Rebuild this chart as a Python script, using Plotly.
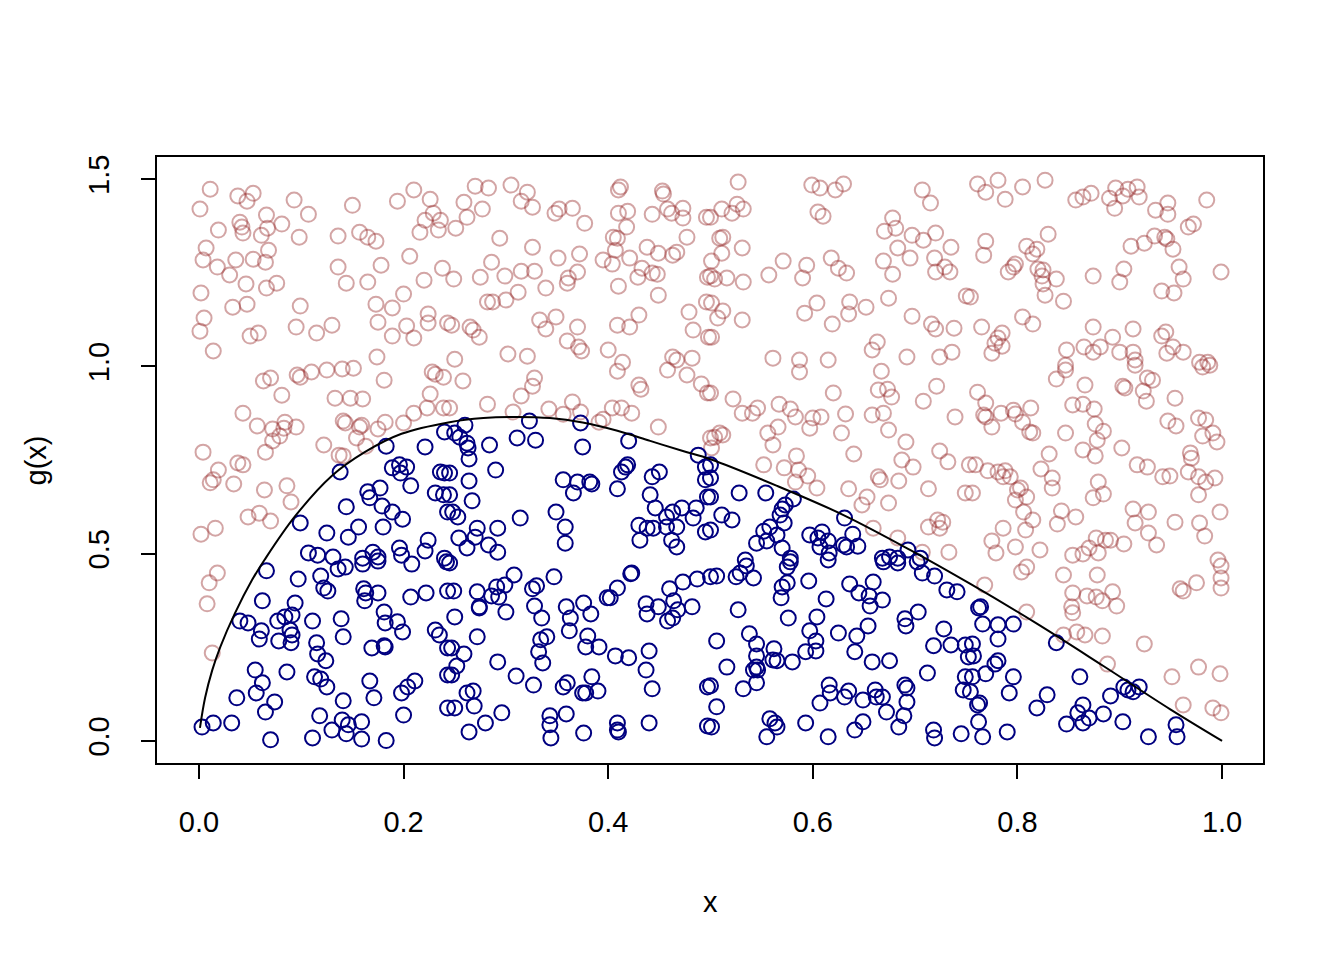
import plotly.graph_objects as go

# ---- rejected proposals (above the curve) ----
red_x = [
 0.011,0.038,0.053,0.047,0.001,0.093,0.107,0.066,0.040,0.042,0.019,0.043,0.061,0.067,0.081,0.098,0.150,0.194,0.210,0.226,0.229,0.221,0.236,0.234,0.216,0.136,0.157,0.165,0.173,0.007,0.004,0.018,0.036,0.053,0.065,0.068,0.030,0.046,0.066,0.076,0.136,0.178,0.206,0.238,0.220,0.144,0.165,0.200,0.002,0.033,0.047,0.099,0.173,0.189,0.005,0.001,0.095,0.115,0.130,0.175,0.203,0.224,0.224,0.050,0.058,0.189,0.210,0.014,0.174,0.243,
 0.270,0.283,0.305,0.321,0.315,0.326,0.259,0.277,0.262,0.251,0.348,0.352,0.365,0.377,0.412,0.410,0.453,0.454,0.410,0.419,0.418,0.443,0.458,0.462,0.473,0.473,0.496,0.294,0.326,0.286,0.351,0.372,0.395,0.405,0.409,0.407,0.404,0.421,0.438,0.449,0.463,0.467,0.477,0.433,0.429,0.443,0.448,0.497,0.249,0.275,0.299,0.315,0.328,0.361,0.360,0.370,0.339,0.410,0.449,0.312,0.282,0.287,0.300,0.496,0.247,0.265,0.268,0.274,0.333,0.339,0.349,0.370,0.360,0.371,0.374,0.400,0.409,0.421,0.430,0.479,0.483,0.498,0.250,0.302,0.321,0.414,0.463,0.467,0.482,
 0.527,0.599,0.607,0.622,0.630,0.707,0.715,0.511,0.521,0.526,0.532,0.500,0.605,0.610,0.678,0.670,0.681,0.697,0.708,0.720,0.735,0.512,0.509,0.511,0.531,0.501,0.683,0.695,0.719,0.669,0.678,0.729,0.734,0.720,0.571,0.557,0.594,0.590,0.618,0.625,0.633,0.500,0.504,0.516,0.532,0.674,0.750,0.501,0.512,0.507,0.531,0.592,0.604,0.636,0.635,0.652,0.619,0.697,0.716,0.720,0.738,0.501,0.663,0.658,0.692,0.724,0.736,0.561,0.587,0.615,
 0.761,0.781,0.769,0.788,0.805,0.827,0.857,0.864,0.872,0.890,0.896,0.903,0.908,0.917,0.919,0.895,0.935,0.947,0.947,0.985,0.967,0.972,0.769,0.767,0.809,0.819,0.815,0.830,0.911,0.924,0.934,0.944,0.946,0.952,0.798,0.796,0.791,0.820,0.825,0.824,0.825,0.838,0.827,0.845,0.874,0.904,0.900,0.958,0.962,0.941,0.953,0.999,0.754,0.805,0.815,0.765,0.785,0.781,0.778,0.785,0.775,0.874,0.913,0.893,0.941,0.945,0.952,0.962,0.946,0.848,0.865,0.874,0.881,0.900,0.913,0.915,0.978,0.986,0.847,
 0.063,0.070,0.096,0.099,0.110,0.125,0.140,0.151,0.181,0.228,0.231,0.239,0.081,0.133,0.148,0.160,0.226,0.223,0.210,0.239,0.043,0.057,0.072,0.084,0.083,0.095,0.079,0.072,0.065,0.141,0.143,0.159,0.157,0.175,0.182,0.154,0.163,0.200,0.122,0.137,0.141,0.004,0.019,0.014,0.011,0.038,0.043,0.034,0.064,0.086,0.090,0.048,0.059,0.070,0.002,0.016,
 0.258,0.328,0.326,0.315,0.282,0.307,0.342,0.365,0.373,0.356,0.395,0.391,0.404,0.413,0.423,0.409,0.430,0.432,0.458,0.477,0.491,0.497,0.449,0.500,0.245,
 0.500,0.522,0.531,0.541,0.546,0.567,0.578,0.583,0.600,0.608,0.597,0.620,0.632,0.628,0.556,0.566,0.561,0.509,0.504,0.512,0.501,0.587,0.667,0.664,0.673,0.677,0.658,0.669,0.674,0.708,0.721,0.739,0.584,0.552,0.572,0.586,0.595,0.583,0.604,0.640,0.691,0.687,0.698,0.724,0.732,0.664,0.666,0.684,0.635,0.653,0.648,0.674,0.713,0.749,0.753,0.713,0.722,0.727,0.724,0.659,0.683,0.707,0.733,
 0.847,0.838,0.866,0.915,0.927,0.932,0.903,0.905,0.923,0.926,0.954,0.981,0.988,0.761,0.769,0.767,0.769,0.775,0.784,0.796,0.798,0.813,0.805,0.812,0.815,0.854,0.864,0.875,0.876,0.884,0.878,0.847,0.864,0.876,0.902,0.947,0.955,0.977,0.984,0.981,0.991,0.995,0.969,0.970,0.967,0.977,0.984,0.993,0.977,0.917,0.927,0.942,0.949,0.759,0.771,0.781,0.788,0.786,0.793,0.831,0.823,0.834,0.834,0.800,0.803,0.809,0.798,0.879,0.884,0.874,0.756,0.806,0.815,0.808,0.786,0.775,0.798,0.822,0.779,0.843,0.857,0.839,0.913,0.928,0.915,0.954,0.978,0.998,0.983,0.928,0.936,0.877,0.886,0.891,0.904,0.870,0.854,0.864,0.879,0.996,
 0.018,0.010,0.008,0.013,
 0.804,0.809,0.768,0.845,0.878,0.854,0.868,0.877,0.883,0.893,0.897,0.853,0.854,0.809,0.845,0.858,0.866,0.883,0.924,0.888,0.959,0.962,0.975,0.999,0.999,0.999,0.977,0.998,0.951,0.962,0.991,0.999,
]
red_y = [
 1.473,1.455,1.462,1.441,1.420,1.444,1.406,1.404,1.385,1.372,1.364,1.356,1.350,1.369,1.380,1.345,1.430,1.441,1.471,1.446,1.409,1.390,1.390,1.364,1.358,1.348,1.358,1.345,1.334,1.316,1.284,1.265,1.284,1.286,1.278,1.310,1.244,1.220,1.209,1.222,1.265,1.270,1.294,1.262,1.230,1.222,1.225,1.193,1.196,1.158,1.166,1.161,1.166,1.156,1.129,1.094,1.105,1.089,1.110,1.118,1.108,1.140,1.116,1.081,1.089,1.081,1.076,1.041,1.025,1.116,
 1.481,1.476,1.484,1.465,1.441,1.425,1.438,1.420,1.398,1.369,1.409,1.420,1.422,1.382,1.479,1.471,1.468,1.460,1.409,1.414,1.372,1.406,1.420,1.409,1.422,1.396,1.398,1.342,1.318,1.278,1.289,1.300,1.284,1.345,1.342,1.310,1.273,1.289,1.318,1.302,1.297,1.305,1.345,1.262,1.238,1.249,1.246,1.238,1.233,1.238,1.241,1.254,1.254,1.236,1.222,1.252,1.209,1.214,1.190,1.198,1.172,1.172,1.177,1.172,1.110,1.105,1.097,1.078,1.124,1.100,1.132,1.105,1.068,1.052,1.041,1.044,1.110,1.105,1.137,1.145,1.097,1.078,1.019,1.033,1.027,1.011,1.025,1.017,1.022,
 1.492,1.484,1.476,1.471,1.487,1.471,1.436,1.420,1.409,1.433,1.420,1.398,1.412,1.401,1.396,1.361,1.369,1.350,1.337,1.356,1.318,1.345,1.342,1.302,1.316,1.281,1.316,1.289,1.289,1.281,1.246,1.265,1.252,1.252,1.281,1.244,1.270,1.236,1.289,1.262,1.249,1.241,1.233,1.236,1.225,1.182,1.188,1.169,1.148,1.129,1.124,1.142,1.169,1.172,1.140,1.158,1.113,1.134,1.113,1.100,1.102,1.078,1.065,1.044,1.025,1.025,1.038,1.022,1.017,1.017,
 1.487,1.497,1.465,1.446,1.479,1.497,1.444,1.452,1.462,1.449,1.476,1.455,1.473,1.479,1.452,1.422,1.417,1.436,1.406,1.444,1.372,1.380,1.334,1.297,1.321,1.313,1.300,1.353,1.321,1.329,1.348,1.345,1.340,1.313,1.273,1.265,1.252,1.260,1.257,1.241,1.220,1.233,1.190,1.174,1.241,1.260,1.225,1.265,1.233,1.201,1.196,1.252,1.185,1.132,1.113,1.105,1.089,1.076,1.062,1.054,1.035,1.105,1.100,1.078,1.081,1.092,1.052,1.038,1.035,1.044,1.052,1.038,1.052,1.038,1.038,1.017,1.011,1.011,1.003,
 0.961,0.969,0.977,0.971,0.985,0.990,0.993,0.995,0.963,0.985,0.979,0.971,0.923,0.915,0.915,0.913,0.926,0.889,0.875,0.889,0.875,0.841,0.833,0.851,0.835,0.838,0.814,0.801,0.771,0.854,0.849,0.843,0.838,0.833,0.851,0.809,0.787,0.849,0.790,0.763,0.761,0.771,0.723,0.697,0.689,0.742,0.737,0.686,0.670,0.681,0.638,0.598,0.608,0.587,0.552,0.568,
 0.961,0.969,0.947,0.921,0.899,0.878,0.886,0.905,0.878,0.872,0.859,0.851,0.889,0.889,0.875,0.987,0.950,0.939,0.990,0.977,0.953,0.929,0.838,0.809,0.889,
 0.929,0.913,0.875,0.875,0.889,0.899,0.886,0.865,0.862,0.865,0.835,0.929,0.873,0.822,0.822,0.838,0.790,0.822,0.811,0.817,0.782,0.985,0.987,0.937,0.939,0.918,0.870,0.875,0.830,0.907,0.947,0.865,0.761,0.737,0.729,0.723,0.707,0.691,0.675,0.766,0.798,0.750,0.731,0.774,0.745,0.705,0.697,0.694,0.673,0.651,0.630,0.635,0.673,0.662,0.737,0.571,0.590,0.584,0.568,0.568,0.542,0.504,0.504,
 0.990,0.966,0.950,1.003,0.969,0.963,0.947,0.942,0.934,0.907,0.915,0.998,1.003,0.931,0.902,0.870,0.865,0.838,0.875,0.883,0.873,0.889,0.851,0.825,0.822,0.897,0.899,0.886,0.846,0.827,0.803,0.822,0.777,0.761,0.782,0.854,0.841,0.862,0.857,0.814,0.822,0.798,0.769,0.755,0.718,0.705,0.691,0.702,0.657,0.737,0.731,0.705,0.707,0.737,0.721,0.718,0.721,0.705,0.705,0.766,0.726,0.702,0.675,0.670,0.675,0.651,0.643,0.691,0.659,0.649,0.662,0.611,0.590,0.563,0.568,0.534,0.518,0.510,0.502,0.614,0.598,0.579,0.619,0.611,0.582,0.584,0.582,0.611,0.547,0.555,0.523,0.542,0.536,0.536,0.526,0.515,0.496,0.499,0.502,0.483,
 0.448,0.422,0.366,0.235,
 0.451,0.464,0.416,0.443,0.443,0.395,0.387,0.384,0.374,0.398,0.360,0.358,0.342,0.344,0.283,0.291,0.283,0.280,0.259,0.205,0.406,0.400,0.422,0.467,0.435,0.408,0.197,0.179,0.171,0.096,0.088,0.075,
]

# ---- accepted proposals (below the curve) ----
blue_x = [
 0.240,0.183,0.221,0.138,0.189,0.196,0.203,0.197,0.236,0.240,0.207,0.165,0.177,0.167,0.231,0.239,0.179,0.189,0.199,0.144,0.243,0.099,0.125,0.146,0.156,0.180,0.224,0.221,0.196,0.198,0.170,0.107,0.116,0.131,0.160,0.175,0.240,
 0.260,0.250,0.255,0.262,0.263,0.264,0.284,0.323,0.311,0.329,0.373,0.375,0.420,0.290,0.245,0.264,0.245,0.267,0.248,0.253,0.314,0.349,0.356,0.370,0.366,0.382,0.384,0.409,0.413,0.417,0.419,0.443,0.450,0.441,0.446,0.457,0.463,0.472,0.486,0.483,0.488,0.495,0.495,0.497,0.495,0.430,0.438,0.444,0.457,0.467,0.431,0.462,0.467,0.358,0.358,0.292,0.272,0.270,0.254,0.262,0.283,0.292,
 0.500,0.500,0.500,0.500,0.528,0.554,0.511,0.521,0.581,0.573,0.570,0.568,0.572,0.558,0.552,0.565,0.555,0.545,0.570,0.578,0.534,0.597,0.609,0.605,0.615,0.607,0.616,0.631,0.639,0.630,0.633,0.644,0.693,0.668,0.675,0.683,0.705,
 0.066,0.097,0.119,0.122,0.126,0.136,0.143,0.160,0.175,0.208,0.242,0.161,0.163,0.175,0.162,0.207,0.222,0.243,0.062,0.094,0.040,0.048,0.061,0.059,0.077,0.084,0.091,0.089,0.091,0.090,0.078,0.111,0.139,0.141,0.115,0.116,0.124,0.181,0.182,0.194,0.199,0.169,0.181,0.182,0.231,0.235,0.243,0.055,0.062,0.086,0.113,0.119,0.125,0.167,0.056,0.037,0.074,0.065,0.141,0.171,0.198,0.204,0.211,0.243,0.243,0.118,0.140,0.146,0.159,0.130,0.144,0.200,0.003,0.014,0.032,0.070,0.111,0.159,0.183,
 0.245,0.249,0.272,0.274,0.274,0.286,0.291,0.293,0.299,0.308,0.300,0.250,0.326,0.330,0.328,0.335,0.347,0.359,0.363,0.362,0.376,0.383,0.380,0.391,0.378,0.399,0.402,0.409,0.423,0.422,0.437,0.438,0.449,0.460,0.464,0.473,0.487,0.468,0.463,0.458,0.482,0.500,0.272,0.334,0.340,0.332,0.336,0.407,0.420,0.440,0.437,0.443,0.247,0.259,0.252,0.247,0.292,0.310,0.327,0.356,0.360,0.384,0.390,0.375,0.378,0.262,0.268,0.269,0.250,0.296,0.280,0.264,0.343,0.343,0.344,0.359,0.376,0.409,0.409,0.410,0.440,0.497,0.497,
 0.506,0.525,0.529,0.535,0.542,0.575,0.578,0.575,0.570,0.569,0.596,0.613,0.615,0.636,0.645,0.655,0.659,0.656,0.668,0.669,0.683,0.702,0.707,0.719,0.731,0.741,0.527,0.576,0.604,0.597,0.603,0.603,0.593,0.625,0.643,0.654,0.641,0.658,0.675,0.690,0.691,0.703,0.728,0.718,0.735,0.749,0.752,0.712,0.749,0.747,0.506,0.538,0.545,0.545,0.562,0.561,0.565,0.580,0.545,0.542,0.546,0.545,0.516,0.500,0.532,0.506,0.501,0.616,0.617,0.607,0.631,0.635,0.649,0.661,0.662,0.668,0.672,0.690,0.692,0.692,0.689,0.684,0.649,0.641,0.593,0.558,0.563,0.565,0.555,0.615,0.718,0.719,0.745,
 0.764,0.762,0.766,0.781,0.796,0.781,0.756,0.757,0.781,0.778,0.769,0.756,0.796,0.792,0.763,0.761,0.762,0.766,0.790,0.754,0.838,0.861,0.829,0.819,0.864,0.859,0.870,0.864,0.884,0.891,0.848,0.903,0.904,0.908,0.913,0.919,0.928,0.955,0.956,
]
blue_y = [
 0.825,0.787,0.785,0.718,0.729,0.737,0.731,0.715,0.718,0.715,0.681,0.665,0.675,0.649,0.662,0.657,0.627,0.611,0.592,0.625,0.611,0.582,0.555,0.544,0.571,0.571,0.536,0.507,0.515,0.496,0.504,0.502,0.496,0.491,0.488,0.491,0.488,
 0.843,0.822,0.811,0.795,0.782,0.753,0.790,0.854,0.809,0.803,0.849,0.785,0.801,0.723,0.715,0.694,0.657,0.641,0.611,0.598,0.595,0.611,0.697,0.691,0.662,0.691,0.686,0.673,0.718,0.731,0.737,0.705,0.718,0.657,0.622,0.598,0.611,0.622,0.622,0.595,0.763,0.731,0.697,0.651,0.558,0.576,0.568,0.568,0.571,0.571,0.536,0.536,0.518,0.571,0.528,0.568,0.568,0.544,0.542,0.515,0.523,0.504,
 0.737,0.702,0.651,0.563,0.662,0.662,0.603,0.590,0.646,0.630,0.619,0.603,0.582,0.571,0.560,0.550,0.534,0.528,0.515,0.488,0.483,0.550,0.558,0.542,0.534,0.518,0.502,0.595,0.552,0.523,0.518,0.520,0.510,0.488,0.491,0.488,0.488,
 0.454,0.432,0.440,0.408,0.400,0.459,0.464,0.472,0.480,0.472,0.478,0.406,0.395,0.395,0.374,0.384,0.395,0.400,0.374,0.368,0.320,0.315,0.294,0.272,0.320,0.331,0.336,0.296,0.283,0.262,0.267,0.320,0.326,0.278,0.262,0.232,0.214,0.344,0.315,0.318,0.291,0.248,0.254,0.251,0.296,0.283,0.248,0.189,0.155,0.184,0.171,0.165,0.144,0.160,0.128,0.115,0.104,0.077,0.107,0.115,0.128,0.144,0.160,0.176,0.088,0.067,0.056,0.043,0.051,0.029,0.019,0.069,0.037,0.048,0.048,0.003,0.008,0.005,0.001,
 0.475,0.400,0.398,0.358,0.355,0.387,0.411,0.384,0.416,0.443,0.344,0.331,0.406,0.414,0.360,0.328,0.438,0.358,0.328,0.294,0.368,0.339,0.280,0.251,0.251,0.382,0.382,0.408,0.448,0.446,0.366,0.339,0.358,0.406,0.374,0.424,0.432,0.350,0.328,0.320,0.358,0.438,0.278,0.270,0.278,0.238,0.208,0.227,0.222,0.240,0.189,0.139,0.248,0.232,0.200,0.176,0.211,0.173,0.149,0.144,0.155,0.171,0.133,0.128,0.128,0.128,0.133,0.093,0.088,0.075,0.048,0.024,0.067,0.043,0.008,0.072,0.021,0.048,0.029,0.024,0.048,0.144,0.040,
 0.440,0.438,0.448,0.467,0.435,0.464,0.478,0.422,0.411,0.382,0.427,0.379,0.483,0.419,0.395,0.387,0.424,0.360,0.376,0.478,0.475,0.478,0.448,0.440,0.403,0.398,0.350,0.328,0.331,0.294,0.267,0.240,0.238,0.288,0.280,0.307,0.238,0.211,0.214,0.326,0.307,0.344,0.299,0.254,0.256,0.256,0.224,0.181,0.171,0.136,0.267,0.286,0.259,0.227,0.246,0.216,0.214,0.211,0.197,0.189,0.189,0.155,0.197,0.147,0.139,0.091,0.037,0.149,0.128,0.101,0.117,0.133,0.109,0.136,0.117,0.117,0.077,0.149,0.141,0.104,0.067,0.037,0.051,0.029,0.048,0.059,0.048,0.037,0.011,0.011,0.029,0.008,0.019,
 0.358,0.355,0.312,0.310,0.312,0.272,0.259,0.227,0.214,0.205,0.179,0.171,0.171,0.128,0.101,0.096,0.051,0.011,0.024,0.131,0.262,0.171,0.123,0.088,0.096,0.075,0.061,0.048,0.072,0.120,0.045,0.051,0.144,0.136,0.131,0.144,0.011,0.043,0.011,
]

# ---- target curve g(x) ----
curve_x = [0.001, 0.006, 0.013, 0.021, 0.035, 0.052, 0.064, 0.094, 0.130, 0.162, 0.198,
           0.245, 0.278, 0.311, 0.343, 0.375, 0.409, 0.441, 0.473, 0.500, 0.565, 0.630,
           0.695, 0.754, 0.819, 0.884, 0.949, 1.000]
curve_y = [0.035, 0.115, 0.189, 0.252, 0.340, 0.430, 0.483, 0.600, 0.708, 0.771, 0.820,
           0.851, 0.862, 0.865, 0.862, 0.850, 0.828, 0.801, 0.774, 0.752, 0.681, 0.603,
           0.510, 0.419, 0.313, 0.200, 0.085, 0.000]

x_ticks = [0.0, 0.2, 0.4, 0.6, 0.8, 1.0]
x_labels = ["0.0", "0.2", "0.4", "0.6", "0.8", "1.0"]
y_ticks = [0.0, 0.5, 1.0, 1.5]
y_labels = ["0.0", "0.5", "1.0", "1.5"]

n_r = min(len(red_x), len(red_y))
n_b = min(len(blue_x), len(blue_y))

FONT = "Liberation Sans, Arial, Helvetica, sans-serif"
FS = 29
RED = "rgba(150,40,40,0.42)"

fig = go.Figure()
fig.add_trace(go.Scatter(
    x=red_x[:n_r], y=red_y[:n_r], mode="markers", hoverinfo="skip",
    marker=dict(symbol="circle-open", size=15, color=RED,
                line=dict(width=2, color=RED)),
    showlegend=False))
fig.add_trace(go.Scatter(
    x=blue_x[:n_b], y=blue_y[:n_b], mode="markers", hoverinfo="skip",
    marker=dict(symbol="circle-open", size=15, color="#000080",
                line=dict(width=2, color="#000080")),
    showlegend=False))
fig.add_trace(go.Scatter(
    x=curve_x, y=curve_y, mode="lines", hoverinfo="skip",
    line=dict(color="black", width=2, shape="spline", smoothing=1.0),
    showlegend=False))

axis_common = dict(
    showgrid=False, zeroline=False, showline=True, mirror=True,
    linecolor="black", linewidth=1.5, ticks="outside", ticklen=14,
    tickwidth=1.5, tickcolor="black", automargin=False,
    tickfont=dict(family=FONT, size=FS, color="black"),
)

fig.update_layout(
    width=1344, height=960,
    margin=dict(l=149, r=89, t=149, b=205),
    paper_bgcolor="white", plot_bgcolor="white",
    xaxis=dict(range=[-0.041, 1.040], tickvals=x_ticks, ticktext=x_labels,
               ticklabelstandoff=18, **axis_common),
    yaxis=dict(range=[-0.059, 1.559], tickvals=y_ticks, ticktext=y_labels,
               tickangle=-90, ticklabelstandoff=21, **axis_common),
    annotations=[
        dict(text="x", xref="paper", yref="paper", x=0.5, y=-0.229,
             xanchor="center", yanchor="middle", showarrow=False,
             font=dict(family=FONT, size=FS, color="black")),
        dict(text="g(x)", xref="paper", yref="paper", x=-0.109, y=0.5,
             xanchor="center", yanchor="middle", showarrow=False, textangle=-90,
             font=dict(family=FONT, size=FS, color="black")),
    ],
)

fig.write_html("out.html")
